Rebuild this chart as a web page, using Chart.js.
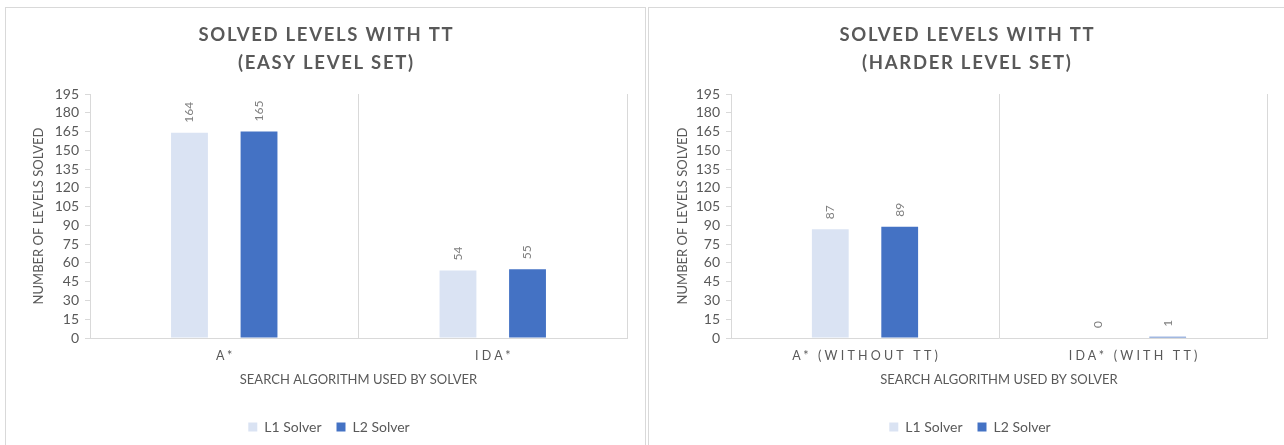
<!DOCTYPE html>
<html>
<head>
<meta charset="utf-8">
<script src="https://cdn.jsdelivr.net/npm/chart.js@4"></script>
<style>
  html, body { margin: 0; padding: 0; background: #fff; overflow: hidden; }
  body { width: 1284px; height: 445px; position: relative; }
  .panel { position: absolute; top: 7px; border-top: 1px solid #d9d9d9; border-left: 1px solid #d9d9d9; }
  #panelEasy { left: 5px; width: 639px; height: 460px; border-right: 1px solid #d9d9d9; }
  #panelHard { left: 648px; width: 640px; height: 460px; }
  canvas { display: block; }
</style>
</head>
<body>
<div class="panel" id="panelEasy"><canvas id="easyChart" width="639" height="436"></canvas></div>
<div class="panel" id="panelHard"><canvas id="hardChart" width="635" height="436"></canvas></div>

<script>
const seriesNames = ['L1 Solver', 'L2 Solver'];

const easyTitle = ['SOLVED LEVELS WITH TT', '(EASY LEVEL SET)'];
const easyCategories = ['A*', 'IDA*'];
const easyL1 = [164, 54];
const easyL2 = [165, 55];

const hardTitle = ['SOLVED LEVELS WITH TT', '(HARDER LEVEL SET)'];
const hardCategories = ['A* (WITHOUT TT)', 'IDA* (WITH TT)'];
const hardL1 = [87, 0];
const hardL2 = [89, 1];

const yMax = 195;
const yStep = 15;

const FONT = 'Lato, "Open Sans", sans-serif';
const TEXT = '#595959';
const LINE = '#d9d9d9';
const COLORS = ['#dae3f3', '#4472c4'];

// Spaced-out heading, category names and rotated value labels
function decorations(titleLines) {
    return {
        id: 'decorations',
        afterDatasetsDraw(chart) {
            const ctx = chart.ctx;
            ctx.save();
            ctx.fillStyle = '#7f7f7f';
            ctx.font = '12px ' + FONT;
            ctx.textAlign = 'left';
            ctx.textBaseline = 'middle';
            chart.data.datasets.forEach((ds, di) => {
                chart.getDatasetMeta(di).data.forEach((bar, i) => {
                    ctx.save();
                    ctx.translate(bar.x, bar.y - 10);
                    ctx.rotate(-Math.PI / 2);
                    ctx.fillText(String(ds.data[i]), 0, 0);
                    ctx.restore();
                });
            });
            ctx.restore();
        },
        afterDraw(chart) {
            const ctx = chart.ctx;
            const cx = chart.width / 2;
            ctx.save();
            ctx.fillStyle = TEXT;
            ctx.textAlign = 'center';
            ctx.textBaseline = 'middle';

            ctx.font = 'bold 18.5px ' + FONT;
            ctx.letterSpacing = '1.7px';
            titleLines.forEach((line, i) => ctx.fillText(line, cx + 0.85, 27 + i * 28));

            const x = chart.scales.x;
            ctx.font = '12.5px ' + FONT;
            ctx.letterSpacing = '3.2px';
            chart.data.labels.forEach((lab, i) => {
                ctx.fillText(lab, x.getPixelForTick(i) + 1.6, chart.chartArea.bottom + 18);
            });
            ctx.restore();
        }
    };
}

// padLeft only nudges the centred legend; the plot's left edge stays at plotLeft
function makeChart(id, titleLines, categories, l1, l2, plotLeft, plotRight, padLeft, yTitlePad) {
    const canvas = document.getElementById(id);
    return new Chart(canvas, {
        type: 'bar',
        data: {
            labels: categories,
            datasets: [
                { label: seriesNames[0], data: l1, backgroundColor: COLORS[0], borderWidth: 0 },
                { label: seriesNames[1], data: l2, backgroundColor: COLORS[1], borderWidth: 0 }
            ]
        },
        options: {
            responsive: false,
            animation: false,
            categoryPercentage: 0.518,
            barPercentage: 0.53,
            layout: {
                padding: { left: padLeft, top: 86, right: canvas.width - plotRight, bottom: 0 }
            },
            plugins: {
                title: { display: false },
                tooltip: { enabled: false },
                legend: {
                    position: 'bottom',
                    labels: {
                        boxWidth: 9,
                        boxHeight: 9,
                        padding: 15,
                        color: TEXT,
                        font: { family: FONT, size: 14 }
                    }
                }
            },
            scales: {
                x: {
                    afterFit: s => { s.height = 67; },
                    grid: { display: true, drawTicks: false, color: LINE, offset: true },
                    border: { display: true, color: LINE },
                    ticks: { display: false },
                    title: {
                        display: true,
                        text: 'SEARCH ALGORITHM USED BY SOLVER',
                        color: TEXT,
                        font: { family: FONT, size: 13 },
                        padding: { top: 0, bottom: 17 }
                    }
                },
                y: {
                    min: 0,
                    max: yMax,
                    afterFit: s => { s.width = plotLeft - padLeft; },
                    grid: { display: true, drawOnChartArea: false, drawTicks: true, tickLength: 5, color: LINE },
                    border: { display: true, color: LINE },
                    ticks: {
                        stepSize: yStep,
                        autoSkip: false,
                        padding: 6,
                        color: TEXT,
                        font: { family: FONT, size: 14 }
                    },
                    title: {
                        display: true,
                        text: 'NUMBER OF LEVELS SOLVED',
                        color: TEXT,
                        font: { family: FONT, size: 13 },
                        padding: { top: yTitlePad, bottom: 0 }
                    }
                }
            }
        },
        plugins: [decorations(titleLines)]
    });
}

makeChart('easyChart', easyTitle, easyCategories, easyL1, easyL2, 84, 621, 25, 0);
makeChart('hardChart', hardTitle, hardCategories, hardL1, hardL2, 82, 618, 24, 2);
</script>
</body>
</html>
